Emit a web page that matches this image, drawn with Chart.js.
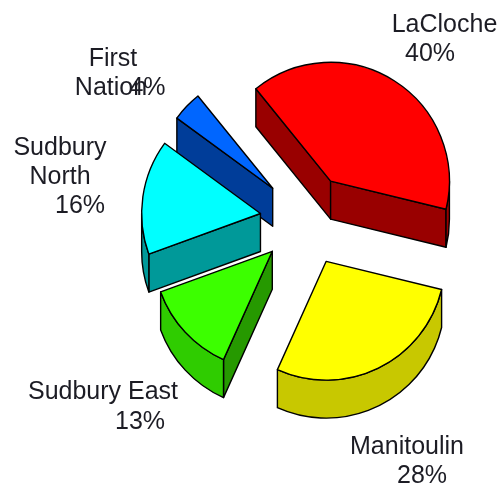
<!DOCTYPE html>
<html>
<head>
<meta charset="utf-8">
<style>html,body{margin:0;padding:0;background:#fff}canvas{display:block}</style>
<script src="https://cdn.jsdelivr.net/npm/chart.js@4"></script>
</head>
<body>
<canvas id="c" width="504" height="487"></canvas>
<script>
const categories = ['LaCloche', 'Manitoulin', 'Sudbury East', 'Sudbury North', 'First Nation'];
const shares = [39.6, 27.9, 12.7, 15.6, 4.1];
const topColors = ['#ff0000', '#ffff00', '#3cff00', '#00ffff', '#0066ff'];
const rimColors = ['#990000', '#c8c800', '#2fcc00', '#009999', '#003d99'];
const cutColors = ['#990000', '#999900', '#269900', '#009999', '#003d99'];
const explode = [46, 46, 46, 46, 46];
const drawOrder = [4, 3, 2, 0, 1];
const depth = 38;

const labelLines = [
  [['LaCloche', 444.5, 32], [0, 430, 61]],
  [['Manitoulin', 407, 454], [1, 422, 483]],
  [['Sudbury East', 103, 399], [2, 140, 429]],
  [['Sudbury', 60, 155], ['North', 60, 184], [3, 80, 213]],
  [['First', 113, 66], ['Nation', 111, 95], [4, 147.5, 95]]
];

const pie3d = {
  id: 'pie3d',
  beforeDatasetDraw(chart) {
    const ctx = chart.ctx;
    const arcs = chart.getDatasetMeta(0).data;
    drawOrder.forEach(i => {
      const arc = arcs[i];
      const { x, y, startAngle: a, endAngle: b, outerRadius: r } = arc.getProps(['x', 'y', 'startAngle', 'endAngle', 'outerRadius'], true);
      const mid = (a + b) / 2;
      const dx = Math.cos(mid) * explode[i], dy = Math.sin(mid) * explode[i];
      ctx.save();
      ctx.translate(dx, dy);
      ctx.lineWidth = 1.4;
      ctx.strokeStyle = '#000';
      ctx.lineJoin = 'round';
      const cut = ang => {
        ctx.beginPath();
        ctx.moveTo(x, y);
        ctx.lineTo(x + r * Math.cos(ang), y + r * Math.sin(ang));
        ctx.lineTo(x + r * Math.cos(ang), y + r * Math.sin(ang) + depth);
        ctx.lineTo(x, y + depth);
        ctx.closePath();
        ctx.fillStyle = cutColors[i];
        ctx.fill();
        ctx.stroke();
      };
      if (Math.cos(a) < 0) cut(a);
      if (Math.cos(b) > 0) cut(b);
      const s = Math.max(a, 0), e = Math.min(b, Math.PI);
      if (e > s) {
        ctx.beginPath();
        ctx.arc(x, y, r, s, e);
        ctx.arc(x, y + depth, r, e, s, true);
        ctx.closePath();
        ctx.fillStyle = rimColors[i];
        ctx.fill();
        ctx.stroke();
      }
      arc.draw(ctx);
      ctx.restore();
    });
    return false;
  },
  afterDraw(chart) {
    const ctx = chart.ctx;
    ctx.save();
    ctx.font = '25px "Liberation Sans", Arial, sans-serif';
    ctx.fillStyle = '#1c1c24';
    ctx.textAlign = 'center';
    ctx.textBaseline = 'alphabetic';
    labelLines.forEach(lines => lines.forEach(([t, x, y]) => {
      const text = typeof t === 'number' ? Math.round(shares[t]) + '%' : t;
      ctx.fillText(text, x, y);
    }));
    ctx.restore();
  }
};

new Chart(document.getElementById('c'), {
  type: 'pie',
  data: {
    labels: categories,
    datasets: [{
      data: shares,
      backgroundColor: topColors,
      borderColor: '#000',
      borderWidth: 1.4,
      borderJoinStyle: 'round'
    }]
  },
  options: {
    responsive: false,
    animation: false,
    rotation: -39,
    radius: 118.8,
    layout: { padding: { left: 108, right: 0, top: 0, bottom: 47 } },
    plugins: { legend: { display: false }, tooltip: { enabled: false } }
  },
  plugins: [pie3d]
});
</script>
</body>
</html>
